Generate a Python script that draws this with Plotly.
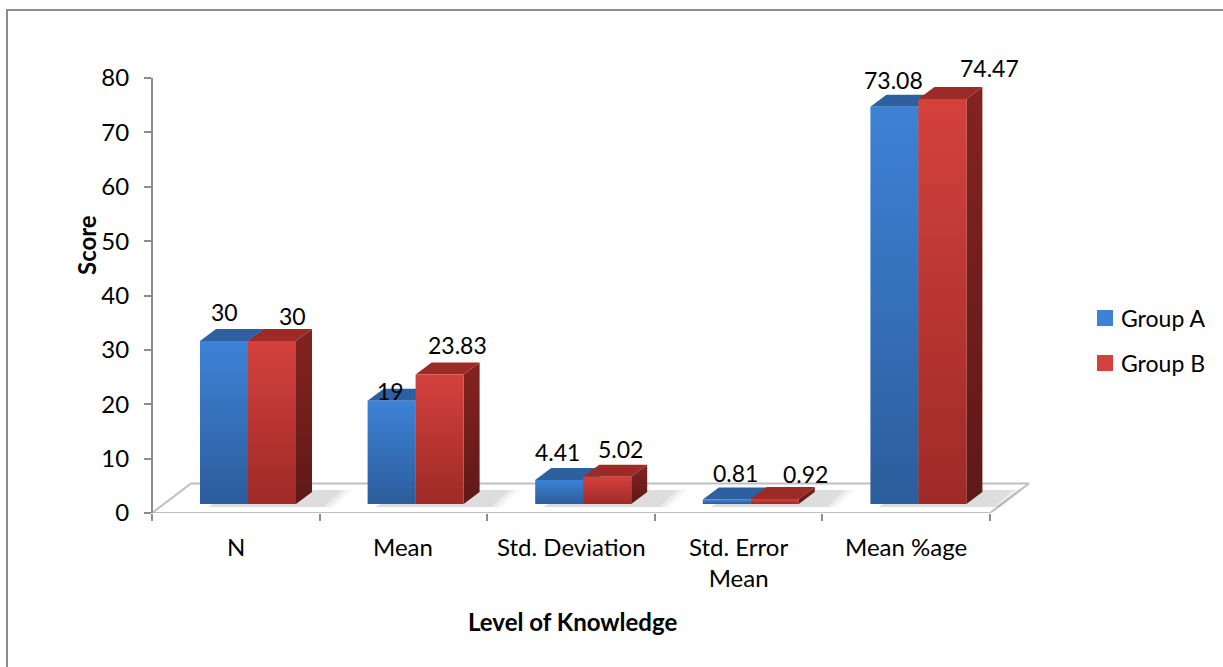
import plotly.graph_objects as go

# ---- data -------------------------------------------------------------
categories = ["N", "Mean", "Std. Deviation", "Std. Error<br>Mean", "Mean %age"]
group_a = [30, 19, 4.41, 0.81, 73.08]
group_b = [30, 23.83, 5.02, 0.92, 74.47]
series_names = ["Group A", "Group B"]
y_ticks = [0, 10, 20, 30, 40, 50, 60, 70, 80]

# ---- page geometry (pixels) --------------------------------------------
W, H = 1223, 667
AX_X0, AX_X1 = 152, 990          # left / right end of the category axis
AX_Y0, AX_Y1 = 513, 78           # pixel rows of y=0 and y=80
PX_X = (AX_X1 - AX_X0) / len(categories)      # px per category unit
PX_Y = (AX_Y0 - AX_Y1) / 80.0                 # px per value unit
X_RANGE = [-AX_X0 / PX_X, (W - AX_X0) / PX_X]

def ux(px):   # horizontal pixels -> category units
    return px / PX_X

def uy(px):   # vertical pixels -> value units
    return px / PX_Y

def paper_x(px):
    return px / W

def paper_y(px):
    return (H - px) / H

# 3-D look: floor depth, bar depth, bar base lift, bar size
FLOOR_DX, FLOOR_DY = ux(39), uy(29.5)
BAR_DX, BAR_DY = ux(16), uy(12)
BAR_BASE = uy(9)
BAR_W = ux(48)
BAR_OFF = ux(48)

styles = {
    "Group A": dict(front=["#2c5d9c", "#3d82d6"], top="#2e5f9e", side=["#1f4372", "#2a5690"]),
    "Group B": dict(front=["#9e2a27", "#d4413d"], top="#9c2b28", side=["#5e1917", "#842321"]),
}

fig = go.Figure()

# ---- floor --------------------------------------------------------------
n = len(categories)
fig.add_trace(go.Scatter(
    x=[0, n, n + FLOOR_DX, FLOOR_DX, 0],
    y=[0, 0, FLOOR_DY, FLOOR_DY, 0],
    mode="lines", fill="toself", fillcolor="white",
    line=dict(color="#bfbfbf", width=2),
    hoverinfo="skip", showlegend=False))

# soft shadows of the bars on the floor
for i in range(n):
    x0 = i + BAR_OFF
    x1 = x0 + 2 * BAR_W
    for k, op in enumerate([0.035, 0.045, 0.06]):
        g = (2 - k) * ux(5)
        fig.add_trace(go.Scatter(
            x=[x0 + BAR_DX * 0.5, x1 + BAR_DX + g + ux(12), x1 + BAR_DX + g + ux(30), x0 + BAR_DX + ux(20), x0 + BAR_DX * 0.5],
            y=[BAR_BASE - uy(3), BAR_BASE - uy(3), BAR_BASE + BAR_DY + uy(2), BAR_BASE + BAR_DY + uy(2), BAR_BASE - uy(3)],
            mode="lines", fill="toself", fillcolor=f"rgba(0,0,0,{op})",
            line=dict(width=0), hoverinfo="skip", showlegend=False))

# ---- bars -----------------------------------------------------------------
def add_bar(x0, value, st):
    y0 = BAR_BASE
    y1 = BAR_BASE + value
    x1 = x0 + BAR_W
    # top face
    fig.add_trace(go.Scatter(
        x=[x0, x1, x1 + BAR_DX, x0 + BAR_DX, x0],
        y=[y1, y1, y1 + BAR_DY, y1 + BAR_DY, y1],
        mode="lines", fill="toself", fillcolor=st["top"],
        line=dict(width=0), hoverinfo="skip", showlegend=False))
    # side face
    fig.add_trace(go.Scatter(
        x=[x1, x1 + BAR_DX, x1 + BAR_DX, x1, x1],
        y=[y0, y0 + BAR_DY, y1 + BAR_DY, y1, y0],
        mode="lines", fill="toself",
        fillgradient=dict(type="vertical", colorscale=[[0, st["side"][0]], [1, st["side"][1]]]),
        line=dict(width=0), hoverinfo="skip", showlegend=False))
    # front face
    fig.add_trace(go.Scatter(
        x=[x0, x1, x1, x0, x0],
        y=[y0, y0, y1, y1, y0],
        mode="lines", fill="toself",
        fillgradient=dict(type="vertical", colorscale=[[0, st["front"][0]], [1, st["front"][1]]]),
        line=dict(width=0), hoverinfo="skip", showlegend=False))

for i in range(n):
    add_bar(i + BAR_OFF, group_a[i], styles["Group A"])
    add_bar(i + BAR_OFF + BAR_W, group_b[i], styles["Group B"])

# ---- value labels ---------------------------------------------------------
FONT = "Lato"
label_dx = {"Group A": [0, -1, -2, 9, -1], "Group B": [20, 18, 13, 31, 47]}
label_dy = {"Group A": [29, 10, 28, 27, 27], "Group B": [25, 29, 28, 25, 31]}
annotations = []
for s, (name, vals) in enumerate(zip(series_names, [group_a, group_b])):
    for i, v in enumerate(vals):
        annotations.append(dict(
            x=i + BAR_OFF + s * BAR_W + BAR_W / 2, y=BAR_BASE + v,
            xref="x", yref="y", text=f"{v:g}", showarrow=False,
            xshift=label_dx[name][i], yshift=label_dy[name][i],
            xanchor="center", yanchor="middle",
            font=dict(family=FONT, size=23, color="black")))

# category labels
for i, c in enumerate(categories):
    annotations.append(dict(
        x=i + 0.5, y=0, xref="x", yref="y", text=c, showarrow=False,
        xanchor="center", yanchor="top", yshift=-17,
        font=dict(family=FONT, size=24, color="black")))

# axis titles
annotations.append(dict(
    x=paper_x(572), y=paper_y(621), xref="paper", yref="paper",
    text="<b>Level of Knowledge</b>", showarrow=False,
    xanchor="center", yanchor="middle",
    font=dict(family=FONT, size=24, color="black")))
annotations.append(dict(
    x=paper_x(86), y=paper_y(245), xref="paper", yref="paper",
    text="<b>Score</b>", showarrow=False, textangle=-90,
    xanchor="center", yanchor="middle",
    font=dict(family=FONT, size=24, color="black")))

# legend
shapes = []
legend_rows = [318, 363]
for name, row in zip(series_names, legend_rows):
    st = styles[name]
    shapes.append(dict(
        type="rect", xref="paper", yref="paper",
        x0=paper_x(1097), x1=paper_x(1113), y0=paper_y(row + 8), y1=paper_y(row - 8),
        fillcolor=st["front"][1], line=dict(width=0)))
    annotations.append(dict(
        x=paper_x(1119), y=paper_y(row), xref="paper", yref="paper",
        text=name, showarrow=False, xanchor="left", yanchor="middle",
        font=dict(family=FONT, size=23, color="black")))

# outer chart frame
shapes.append(dict(
    type="rect", xref="paper", yref="paper",
    x0=paper_x(7), x1=paper_x(W + 10), y0=paper_y(H + 10), y1=paper_y(10),
    line=dict(color="#8c8c8c", width=2), fillcolor="rgba(0,0,0,0)", layer="above"))

fig.update_layout(
    width=W, height=H, autosize=False,
    margin=dict(l=0, r=0, t=0, b=0, pad=0, autoexpand=False),
    paper_bgcolor="white", plot_bgcolor="white",
    showlegend=False,
    xaxis=dict(
        domain=[0, 1], range=X_RANGE,
        tickmode="array", tickvals=list(range(n + 1)),
        ticks="outside", ticklen=7, tickwidth=2, tickcolor="#8c8c8c",
        showticklabels=False, showline=False, showgrid=False, zeroline=False,
        anchor="y", fixedrange=True, automargin=False),
    yaxis=dict(
        domain=[paper_y(AX_Y0), paper_y(AX_Y1)], range=[0, 80],
        anchor="free", position=paper_x(AX_X0),
        tickmode="array", tickvals=y_ticks,
        ticks="outside", ticklen=7, tickwidth=2, tickcolor="#8c8c8c",
        showline=True, linecolor="#8c8c8c", linewidth=2,
        showgrid=False, zeroline=False,
        tickfont=dict(family=FONT, size=24, color="black"),
        ticklabelstandoff=10, fixedrange=True, automargin=False),
    annotations=annotations,
    shapes=shapes,
)

fig.write_html("out.html", config={"responsive": False, "displayModeBar": False})
